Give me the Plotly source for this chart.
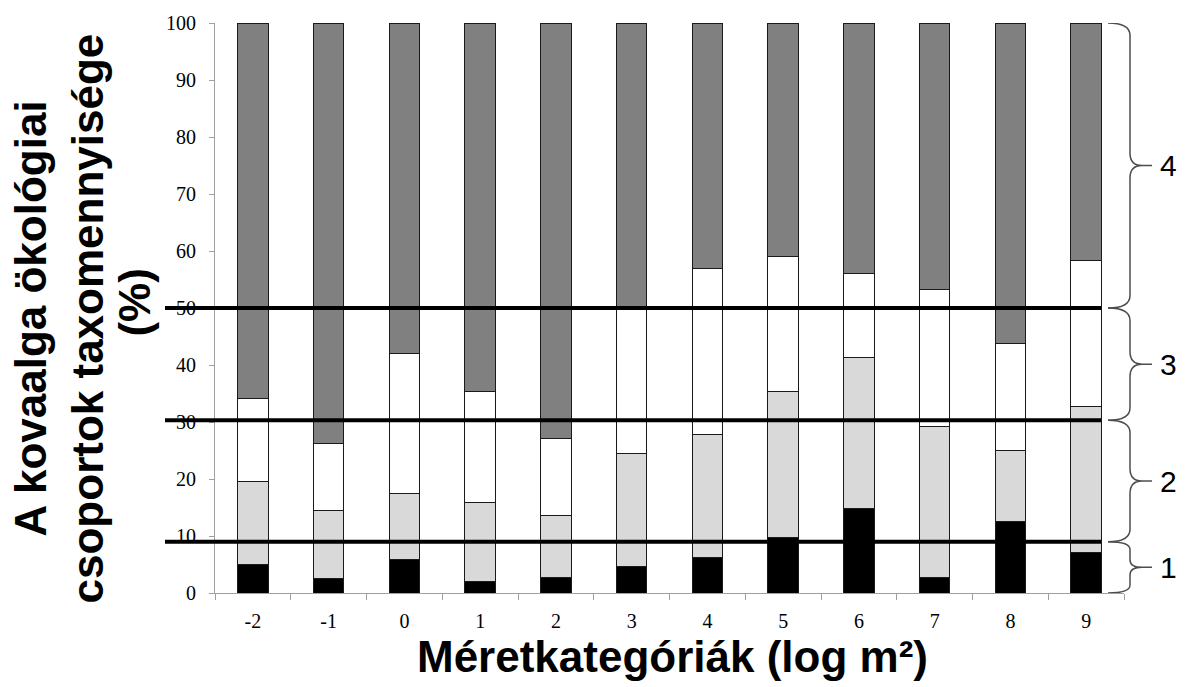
import plotly.graph_objects as go

categories = ["-2", "-1", "0", "1", "2", "3", "4", "5", "6", "7", "8", "9"]

# segment values (%) per ecological group, bottom to top
group1 = [5.0, 2.6, 5.9, 2.1, 2.8, 4.7, 6.3, 9.7, 14.9, 2.8, 12.6, 7.1]
group2 = [14.6, 11.8, 11.6, 13.8, 10.8, 19.7, 21.5, 25.6, 26.4, 26.4, 12.4, 25.7]
group3 = [14.6, 11.8, 24.6, 19.4, 13.5, 25.6, 29.2, 23.7, 14.8, 24.0, 18.8, 25.6]
group4 = [65.8, 73.8, 57.9, 64.7, 72.9, 50.0, 43.0, 41.0, 43.9, 46.8, 56.2, 41.6]

series = [group1, group2, group3, group4]
colors = ["#000000", "#d9d9d9", "#ffffff", "#808080"]

# boundaries of the bracketed zones (%)
zone_bounds = [0, 9.0, 30.3, 50.0, 100]
zone_labels = ["1", "2", "3", "4"]
line_levels = [50.0, 30.3, 9.0]

y_ticks = list(range(0, 101, 10))

W, H = 1189, 687
ML, MR, MT, MB = 215, 65, 20, 94
PW = W - ML - MR
PH = H - MT - MB


def px(p):
    return (p - ML) / PW


def py(p):
    return (H - MB - p) / PH


fig = go.Figure()
for vals, col in zip(series, colors):
    fig.add_trace(go.Bar(
        x=categories, y=vals,
        marker=dict(color=col, line=dict(color="#1a1a1a", width=1)),
        showlegend=False,
    ))

shapes = []
for lv in line_levels:
    shapes.append(dict(type="line", xref="paper", yref="y",
                       x0=px(165), x1=px(1101), y0=lv, y1=lv,
                       line=dict(color="#000000", width=4), layer="above"))

annotations = []
xs, xv, xt, xd = px(1108), px(1130), px(1142), px(1152)
for i in range(4):
    yb, yt = zone_bounds[i], zone_bounds[i + 1]
    ym = (yb + yt) / 2
    c = min(2.2, (yt - yb) * 0.15)
    path = (f"M {xs},{yt} Q {xv},{yt} {xv},{yt - c} "
            f"L {xv},{ym + c} Q {xv},{ym} {xt},{ym} "
            f"Q {xv},{ym} {xv},{ym - c} "
            f"L {xv},{yb + c} Q {xv},{yb} {xs},{yb} "
            f"M {xt},{ym} L {xd},{ym}")
    shapes.append(dict(type="path", xref="paper", yref="y", path=path,
                       line=dict(color="#4d4d4d", width=1.5)))
    annotations.append(dict(xref="paper", yref="y", x=px(1168), y=ym,
                            text=zone_labels[i], showarrow=False,
                            xanchor="center", yanchor="middle",
                            font=dict(family="Liberation Sans", size=30, color="#000")))

title_font = dict(family="Liberation Sans, Arial", size=44, color="#000")
ytitle_lines = [("A kovaalga ökológiai", 30, 317),
                ("csoportok taxomennyisége", 87, 317),
                ("(%)", 135, 301)]
for txt, cx, cy in ytitle_lines:
    annotations.append(dict(xref="paper", yref="paper", x=px(cx), y=py(cy),
                            text=f"<b>{txt}</b>", showarrow=False, textangle=-90,
                            xanchor="center", yanchor="middle", font=title_font))

annotations.append(dict(xref="paper", yref="paper", x=px(672), y=py(657),
                        text="<b>Méretkategóriák (log m²)</b>", showarrow=False,
                        xanchor="center", yanchor="middle",
                        font=dict(family="Liberation Sans, Arial", size=44, color="#000")))

fig.update_layout(
    width=W, height=H,
    margin=dict(l=ML, r=MR, t=MT, b=MB),
    barmode="stack", bargap=0.6,
    plot_bgcolor="#ffffff", paper_bgcolor="#ffffff",
    shapes=shapes, annotations=annotations,
    xaxis=dict(type="category", showline=True, linecolor="#a0a0a0", linewidth=1,
               ticks="outside", tickson="boundaries", ticklen=6, tickcolor="#a0a0a0",
               showgrid=False, ticklabelstandoff=10,
               tickfont=dict(family="Liberation Serif, Times New Roman", size=20, color="#000")),
    yaxis=dict(range=[0, 100], tickvals=y_ticks, showline=True, linecolor="#a0a0a0",
               linewidth=1, ticks="outside", ticklen=5, tickcolor="#a0a0a0",
               showgrid=False, zeroline=False, ticklabelstandoff=9,
               tickfont=dict(family="Liberation Serif, Times New Roman", size=20, color="#000")),
)

fig.write_html("out.html")
